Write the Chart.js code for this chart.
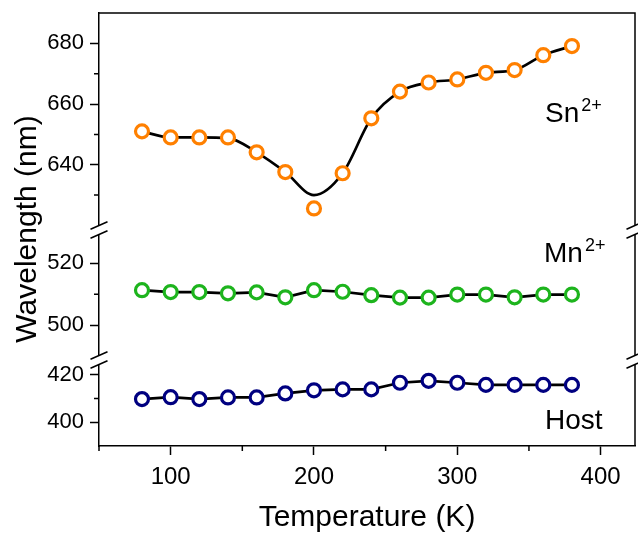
<!DOCTYPE html>
<html>
<head>
<meta charset="utf-8">
<script src="https://cdn.jsdelivr.net/npm/chart.js@4/dist/chart.umd.min.js"></script>
<style>
  html, body { margin: 0; padding: 0; background: #fff; }
  #chart { display: block; }
</style>
</head>
<body>
<canvas id="chart" width="638" height="533"></canvas>
<script>
// Temperature steps (K)
const temps = [80, 100, 120, 140, 160, 180, 200, 220, 240, 260, 280, 300, 320, 340, 360, 380];

// Emission peak positions (nm)
const snValues   = [651.0, 649.0, 649.0, 649.0, 644.1, 637.6, 625.6, 637.2, 655.3, 664.1, 667.1, 668.1, 670.3, 671.2, 676.1, 679.1];
// smoothed guide curve through the Sn2+ band
const snFit      = [651.0, 649.0, 649.0, 648.8, 644.1, 637.6, 630.0, 637.2, 655.3, 664.1, 667.1, 668.1, 670.3, 671.2, 676.1, 679.1];
const mnValues   = [511.3, 510.7, 510.7, 510.3, 510.6, 509.0, 511.3, 510.8, 509.7, 508.9, 508.9, 509.9, 509.9, 509.0, 509.9, 509.9];
const hostValues = [409.8, 410.6, 409.8, 410.5, 410.5, 412.2, 413.5, 413.9, 413.9, 416.7, 417.5, 416.7, 415.8, 415.8, 415.8, 415.8];

// Tick labels
const tempTicks  = [100, 200, 300, 400];
const tempMinor  = [50, 150, 250, 350];
const snTicks    = [640, 660, 680];
const snMinor    = [630, 650, 670];
const mnTicks    = [500, 520];
const mnMinor    = [510];
const hostTicks  = [400, 420];
const hostMinor  = [410];

const FONT = "'Liberation Sans', Arial, sans-serif";
Chart.defaults.font.family = FONT;
Chart.defaults.color = '#000';

const toPoints = (ys) => temps.map((t, i) => ({ x: t, y: ys[i] }));

// keep label overhang from pushing the plot area around
function noPadding(scale) {
    scale.paddingTop = 0;
    scale.paddingBottom = 0;
    scale.paddingLeft = 0;
    scale.paddingRight = 0;
}

function yAxis(min, max, weight, ticks) {
    return {
        type: 'linear',
        position: 'left',
        stack: 'wavelength',
        stackWeight: weight,
        min: min,
        max: max,
        border: { color: '#000', width: 1.5 },
        grid: { drawOnChartArea: false, tickLength: 9, tickColor: '#000', tickWidth: 1.5 },
        ticks: { font: { size: 22 }, padding: 6, color: '#000' },
        afterBuildTicks: (scale) => { scale.ticks = ticks.map(v => ({ value: v })); },
        afterFit: (scale) => { scale.width = 99; noPadding(scale); }
    };
}

// minor ticks, frame, axis breaks and text labels
const decorations = {
    id: 'decorations',
    afterDraw(chart) {
        const ctx = chart.ctx;
        const { left, right, top, bottom } = chart.chartArea;
        const s = chart.scales;
        ctx.save();
        ctx.strokeStyle = '#000';
        ctx.lineWidth = 1.5;

        // top and right frame lines
        ctx.beginPath();
        ctx.moveTo(left, top);
        ctx.lineTo(right, top);
        ctx.lineTo(right, bottom);
        ctx.stroke();

        // minor ticks
        ctx.beginPath();
        tempMinor.forEach(v => {
            const px = s.x.getPixelForValue(v);
            ctx.moveTo(px, bottom);
            ctx.lineTo(px, bottom + 5);
        });
        [[s.ySn, snMinor], [s.yMn, mnMinor], [s.yHost, hostMinor]].forEach(([sc, vals]) => {
            vals.forEach(v => {
                const py = sc.getPixelForValue(v);
                ctx.moveTo(left - 5, py);
                ctx.lineTo(left, py);
            });
        });
        ctx.stroke();

        // axis breaks between the stacked segments
        [s.ySn.bottom, s.yMn.bottom].forEach(by => {
            [left, right].forEach(bx => {
                ctx.fillStyle = '#fff';
                ctx.fillRect(bx - 2, by - 4.5, 4, 9);
                ctx.beginPath();
                [-4.5, 4.5].forEach(off => {
                    ctx.moveTo(bx - 8.5, by + off + 3.8);
                    ctx.lineTo(bx + 8.5, by + off - 3.8);
                });
                ctx.stroke();
            });
        });

        // y axis title
        ctx.fillStyle = '#000';
        ctx.save();
        ctx.translate(36, 229);
        ctx.rotate(-Math.PI / 2);
        ctx.font = '30px ' + FONT;
        ctx.textAlign = 'center';
        ctx.textBaseline = 'alphabetic';
        ctx.fillText('Wavelength (nm)', 0, 0);
        ctx.restore();

        // series labels
        ctx.textAlign = 'left';
        ctx.textBaseline = 'alphabetic';
        const label = (main, sup, x, y) => {
            ctx.font = '28px ' + FONT;
            ctx.fillText(main, x, y);
            if (sup) {
                const w = ctx.measureText(main).width;
                ctx.font = '18px ' + FONT;
                ctx.fillText(sup, x + w + 2, y - 11);
            }
        };
        label('Sn', '2+', 545, 122);
        label('Mn', '2+', 544, 262);
        label('Host', '', 545, 429);
        ctx.restore();
    }
};

new Chart(document.getElementById('chart'), {
    type: 'scatter',
    data: {
        datasets: [
            {
                label: 'Sn fit',
                data: toPoints(snFit),
                yAxisID: 'ySn',
                showLine: true,
                cubicInterpolationMode: 'monotone',
                borderColor: '#000',
                borderWidth: 2.7,
                pointRadius: 0,
                order: 2
            },
            {
                label: 'Sn2+',
                data: toPoints(snValues),
                yAxisID: 'ySn',
                showLine: false,
                pointRadius: 6.5,
                pointBorderWidth: 3.2,
                pointBorderColor: '#FF8000',
                pointBackgroundColor: '#fff',
                order: 1
            },
            {
                label: 'Mn2+',
                data: toPoints(mnValues),
                yAxisID: 'yMn',
                showLine: true,
                borderColor: '#000',
                borderWidth: 2.7,
                pointRadius: 6.5,
                pointBorderWidth: 3.2,
                pointBorderColor: '#1DB41D',
                pointBackgroundColor: '#fff'
            },
            {
                label: 'Host',
                data: toPoints(hostValues),
                yAxisID: 'yHost',
                showLine: true,
                borderColor: '#000',
                borderWidth: 2.7,
                pointRadius: 6.5,
                pointBorderWidth: 3.2,
                pointBorderColor: '#000080',
                pointBackgroundColor: '#fff'
            }
        ]
    },
    options: {
        responsive: false,
        animation: false,
        events: [],
        layout: { autoPadding: false, padding: { top: 13, right: 3, left: 0, bottom: 0 } },
        plugins: { legend: { display: false }, tooltip: { enabled: false } },
        scales: {
            x: {
                type: 'linear',
                position: 'bottom',
                min: 50,
                max: 424,
                border: { color: '#000', width: 1.5 },
                grid: { drawOnChartArea: false, tickLength: 9, tickColor: '#000', tickWidth: 1.5 },
                ticks: { font: { size: 24 }, padding: 8, color: '#000', maxRotation: 0 },
                afterBuildTicks: (scale) => { scale.ticks = tempTicks.map(v => ({ value: v })); },
                afterFit: (scale) => { scale.height = 87; noPadding(scale); },
                title: {
                    display: true,
                    text: 'Temperature (K)',
                    font: { size: 30, lineHeight: 1.2 },
                    color: '#000',
                    padding: { top: 0, bottom: -3 }
                }
            },
            yHost: yAxis(390, 426.3, 86, hostTicks),
            yMn: yAxis(488.7, 530.8, 130, mnTicks),
            ySn: yAxis(618.5, 690, 217, snTicks)
        }
    },
    plugins: [decorations]
});
</script>
</body>
</html>
